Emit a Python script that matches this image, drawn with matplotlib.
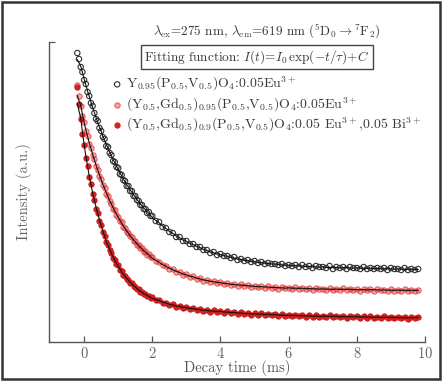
import numpy as np
import pandas as pd
import matplotlib
matplotlib.use("Agg")
import matplotlib.pyplot as plt
from matplotlib.patches import Rectangle

plt.rcParams['font.family'] = ['cmr10', 'DejaVu Serif']
plt.rcParams['mathtext.fontset'] = 'cm'
plt.rcParams['axes.unicode_minus'] = False
plt.rcParams['axes.formatter.use_mathtext'] = True

# ---- data (decay time in ms, intensity in a.u.) ----
time_ms = np.round(np.concatenate([np.arange(-0.20, 2.001, 0.05),
                                   np.arange(2.1, 9.801, 0.1)]), 2)

y_eu = [289, 283, 275, 270, 262, 258, 250, 246, 239, 236, 229, 223, 221, 214, 211,
        205, 203, 196, 195, 189, 187, 181, 180, 175, 174, 168, 167, 162, 161, 156,
        156, 151, 151, 146, 146, 142, 141, 137, 137, 133, 133, 129, 130, 126, 126,
        121, 120, 115, 114, 110, 109, 105, 105, 101,
        101, 98, 98, 95, 95, 92, 92, 89, 90, 87,
        88, 86, 86, 84, 85, 82, 83, 81, 82, 80,
        81, 79, 80, 78, 79, 78, 78, 77, 78, 76,
        77, 76, 77, 75, 77, 75, 76, 74, 76, 75,
        75, 74, 76, 73, 75, 74, 75, 73, 75, 74,
        74, 73, 75, 73, 74, 73, 74, 73, 74, 72,
        74, 73, 73, 72, 74, 72, 73, 72, 73]

y_gd_eu = [257, 246, 236, 226, 220, 211, 206, 198, 194, 187, 183, 176, 172, 166, 163,
           157, 154, 148, 146, 141, 138, 133, 132, 127, 125, 121, 120, 115, 114, 110,
           109, 106, 105, 101, 101, 97, 97, 94, 94, 90, 91, 87, 88, 85, 85,
           81, 80, 77, 76, 73, 73, 70, 70, 67,
           68, 65, 66, 63, 64, 61, 62, 60, 61, 59,
           60, 58, 59, 57, 58, 56, 58, 56, 57, 55,
           56, 55, 56, 54, 56, 54, 55, 53, 55, 54,
           54, 53, 55, 53, 54, 53, 54, 52, 54, 53,
           53, 52, 54, 52, 53, 52, 54, 52, 53, 52,
           53, 51, 53, 52, 53, 51, 53, 52, 52, 51,
           53, 51, 52, 51, 53, 51, 52, 51, 52]

y_gd_eu_bi = [255, 238, 223, 208, 197, 184, 176, 165, 158, 148, 142, 133, 129, 121, 117,
              110, 106, 100, 97, 92, 89, 84, 82, 78, 77, 72, 71, 67, 66, 63,
              62, 59, 59, 56, 55, 53, 53, 50, 50, 48, 48, 46, 46, 44, 45,
              42, 42, 39, 39, 37, 38, 35, 36, 34,
              35, 33, 34, 32, 33, 31, 32, 30, 32, 30,
              31, 29, 31, 29, 30, 28, 30, 28, 29, 27,
              29, 27, 29, 27, 28, 27, 28, 26, 28, 26,
              27, 26, 27, 26, 27, 25, 27, 25, 27, 25,
              26, 25, 27, 25, 26, 25, 26, 24, 26, 25,
              26, 24, 26, 24, 26, 24, 25, 24, 26, 24,
              25, 24, 25, 24, 25, 23, 25, 24, 25]

labels = [r"Y$_{0.95}$(P$_{0.5}$,V$_{0.5}$)O$_4$:0.05Eu$^{3+}$",
          r"(Y$_{0.5}$,Gd$_{0.5}$)$_{0.95}$(P$_{0.5}$,V$_{0.5}$)O$_4$:0.05Eu$^{3+}$",
          r"(Y$_{0.5}$,Gd$_{0.5}$)$_{0.9}$(P$_{0.5}$,V$_{0.5}$)O$_4$:0.05 Eu$^{3+}$,0.05 Bi$^{3+}$"]

x_ticks = [0, 2, 4, 6, 8, 10]

# ---- figure ----
W, H = 442, 381
fig = plt.figure(figsize=(W / 100, H / 100), dpi=100)
ax = fig.add_axes([49 / W, 39 / H, 376 / W, 300 / H])

tc = '#3a3a3a'
styles = [dict(marker='o', s=15, facecolors='none', edgecolors='#303030', linewidths=0.8),
          dict(marker='o', s=15, facecolors=(0.93, 0.35, 0.35, 0.55),
               edgecolors=(0.88, 0.2, 0.2, 0.75), linewidths=0.7),
          dict(marker='o', s=15, facecolors='#d42222', edgecolors='#c81a1a', linewidths=0.6)]

handles = []
for ys, st, lab in zip([y_eu, y_gd_eu, y_gd_eu_bi], styles, labels):
    ys = np.asarray(ys, dtype=float)
    h = ax.scatter(time_ms, ys, label=lab, zorder=2, **st)
    handles.append(h)
    fit = pd.Series(ys).rolling(5, center=True, min_periods=1).mean()
    ax.plot(time_ms, fit, color='#111111', lw=0.8, zorder=3)

ax.set_xlim(-1.03, 10)
ax.set_ylim(0, 300)
ax.set_xticks(x_ticks)
ax.set_yticks([300])
ax.set_yticklabels([])
for s in ['top', 'right']:
    ax.spines[s].set_visible(False)
for s in ['left', 'bottom']:
    ax.spines[s].set_color('#555555')
    ax.spines[s].set_linewidth(1.0)
ax.tick_params(axis='both', direction='in', length=4, width=0.9, color='#555555',
               labelsize=10.5, labelcolor='#666666', pad=3)
ax.set_xlabel('Decay time (ms)', fontsize=10.5, color='#555555', labelpad=-1)
ax.set_ylabel('Intensity (a.u.)', fontsize=10.5, color='#666666', labelpad=9)

fig.text(267 / W, 1 - 31 / H,
         r"$\lambda_{\rm ex}$=275 nm, $\lambda_{\rm em}$=619 nm ($^5$D$_0$$\rightarrow$$^7$F$_2$)",
         ha='center', va='center', fontsize=9.5, color=tc)
fig.text(257 / W, 1 - 57 / H,
         r"Fitting function: $I(t)\!=\!I_0\,\exp(-t/\tau)\!+\!C$",
         ha='center', va='center', fontsize=9.5, color=tc,
         bbox=dict(boxstyle='square,pad=0.22', fc='white', ec='#444444', lw=1.0))

leg = ax.legend(handles=handles, loc='upper left',
                bbox_to_anchor=(113 / W, 1 - 75 / H), bbox_transform=fig.transFigure,
                frameon=False, fontsize=10, handlelength=0.6, handletextpad=0.35,
                labelspacing=0.15, borderpad=0, borderaxespad=0, markerscale=1.0)
for t in leg.get_texts():
    t.set_color(tc)

fig.patches.append(Rectangle((0.004, 0.004), 0.991, 0.99, transform=fig.transFigure,
                             fill=False, ec='#333333', lw=1.8))

fig.savefig('out.png', dpi=100)
